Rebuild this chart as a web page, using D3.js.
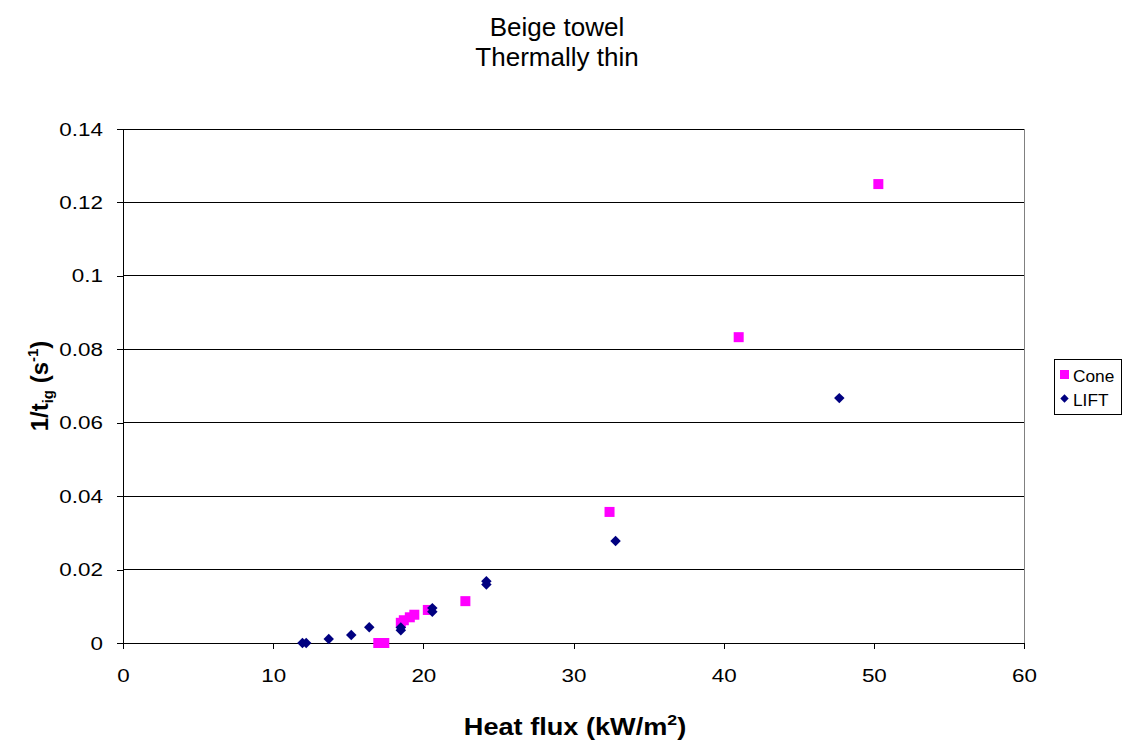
<!DOCTYPE html>
<html><head><meta charset="utf-8">
<script src="https://cdn.jsdelivr.net/npm/d3@7"></script>
<style>body{margin:0;background:#fff}svg{font-family:"Liberation Sans",Arial,sans-serif}</style>
</head><body><svg id="c" width="1123" height="741"></svg>
<script>
const titleLines = ["Beige towel", "Thermally thin"];
const xTicks = [0, 10, 20, 30, 40, 50, 60];
const yTicks = [0, 0.02, 0.04, 0.06, 0.08, 0.1, 0.12, 0.14];
const yTickLabels = ["0", "0.02", "0.04", "0.06", "0.08", "0.1", "0.12", "0.14"];
const coneX = [17.0, 17.4, 18.5, 18.7, 19.1, 19.4, 20.3, 22.8, 32.4, 41.0, 50.3];
const coneY = [0, 0, 0.0055, 0.0062, 0.0070, 0.0077, 0.0090, 0.0114, 0.0357, 0.0833, 0.125];
const liftX = [11.95, 12.2, 13.7, 15.2, 16.4, 18.5, 18.5, 20.6, 20.6, 24.2, 24.2, 32.8, 47.7];
const liftY = [0, 0, 0.0011, 0.0022, 0.0043, 0.0042, 0.0035, 0.0095, 0.0085, 0.0168, 0.0159, 0.0278, 0.0667];
const seriesNames = ["Cone", "LIFT"];

const svg = d3.select("#c");
const L = 123, R = 1024, T = 129, B = 643;
const x = d3.scaleLinear().domain([0, 60]).range([L, R]);
const y = d3.scaleLinear().domain([0, 0.14]).range([B, T]);

// gridlines
svg.append("g").selectAll("line").data(yTicks.slice(1)).join("line")
  .attr("x1", L).attr("x2", R).attr("y1", d => y(d)).attr("y2", d => y(d))
  .attr("stroke", "#000").attr("stroke-width", 1).attr("shape-rendering", "crispEdges");
// plot border right
svg.append("line").attr("x1", R).attr("x2", R).attr("y1", T).attr("y2", B)
  .attr("stroke", "#808080").attr("shape-rendering", "crispEdges");

// axes
const xAxis = svg.append("g").attr("transform", `translate(0,${B})`)
  .call(d3.axisBottom(x).tickValues(xTicks).tickSize(6).tickPadding(20).tickFormat(d3.format("d")));
const yAxis = svg.append("g").attr("transform", `translate(${L},0)`)
  .call(d3.axisLeft(y).tickValues(yTicks).tickSize(6).tickPadding(11).tickFormat((d, i) => yTickLabels[i]));
[xAxis, yAxis].forEach(a => {
  a.select(".domain").attr("stroke", "#000").attr("shape-rendering", "crispEdges");
  a.selectAll(".tick line").attr("stroke", "#000").attr("shape-rendering", "crispEdges");
  a.selectAll("text").attr("font-size", 19).attr("fill", "#000")
    .attr("font-family", "Liberation Sans, Arial, sans-serif")
    .attr("transform", "scale(1.18,1)");
});

// data
const cone = coneX.map((v, i) => ({x: v, y: coneY[i]}));
const lift = liftX.map((v, i) => ({x: v, y: liftY[i]}));
svg.append("g").selectAll("rect").data(cone).join("rect")
  .attr("x", d => x(d.x) - 5).attr("y", d => y(d.y) - 5).attr("width", 10).attr("height", 10)
  .attr("fill", "#ff00ff");
const diamond = d3.symbol().type(d3.symbolDiamond2).size(70);
svg.append("g").selectAll("path").data(lift).join("path")
  .attr("d", diamond).attr("transform", d => `translate(${x(d.x)},${y(d.y)})`)
  .attr("fill", "#000080");

// titles
svg.append("g").selectAll("text").data(titleLines).join("text")
  .attr("x", 557).attr("y", (d, i) => 36 + i * 30).attr("text-anchor", "middle")
  .attr("font-size", 26).text(d => d);

const xt = svg.append("text").attr("transform", "translate(575,735) scale(1.18,1)").attr("text-anchor", "middle")
  .attr("font-size", 23).attr("font-weight", "bold");
xt.append("tspan").text("Heat flux (kW/m");
xt.append("tspan").attr("dy", -10).attr("font-size", 15).text("2");
xt.append("tspan").attr("dy", 10).text(")");

const yt = svg.append("text").attr("transform", "translate(48,386) rotate(-90)").attr("text-anchor", "middle")
  .attr("font-size", 24).attr("font-weight", "bold");
yt.append("tspan").text("1/t");
yt.append("tspan").attr("dy", 5).attr("font-size", 15).text("ig");
yt.append("tspan").attr("dy", -5).text(" (s");
yt.append("tspan").attr("dy", -10).attr("font-size", 15).text("-1");
yt.append("tspan").attr("dy", 10).text(")");

// legend
const lg = svg.append("g");
lg.append("rect").attr("x", 1054.5).attr("y", 359.5).attr("width", 67).attr("height", 55)
  .attr("fill", "#fff").attr("stroke", "#000");
lg.append("rect").attr("x", 1060).attr("y", 370).attr("width", 9).attr("height", 9).attr("fill", "#ff00ff");
lg.append("path").attr("d", d3.symbol().type(d3.symbolDiamond2).size(45)).attr("transform", "translate(1064.5,398.5)").attr("fill", "#000080");
lg.selectAll("text").data(seriesNames).join("text")
  .attr("transform", (d, i) => `translate(1073,${382 + i * 24}) scale(1.08,1)`).attr("font-size", 16).text(d => d);
</script></body></html>
